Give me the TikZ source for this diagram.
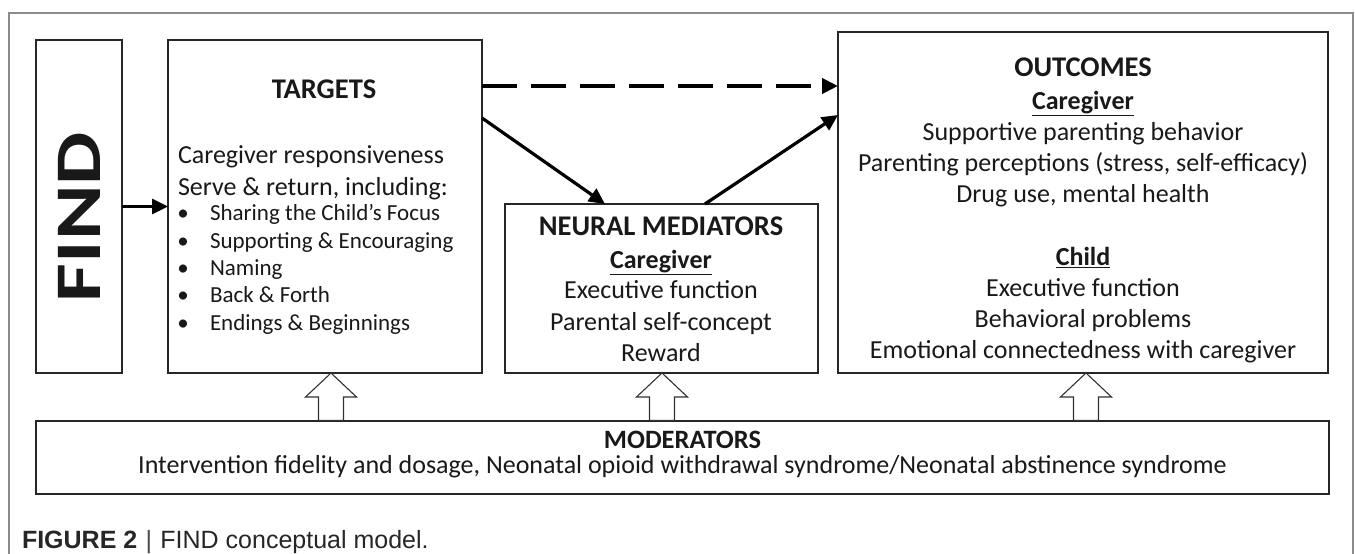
\documentclass[tikz,border=0pt]{standalone}
\usepackage{fontspec}
\usepackage{graphicx}
\setmainfont{Carlito}
\newfontfamily\capfont{Liberation Sans}
\usetikzlibrary{arrows.meta}
\newcommand\szBody{\fontsize{26}{31}\selectfont}
\newcommand\szBul{\fontsize{23}{27}\selectfont}
\newcommand\szTitle{\fontsize{28.5}{34}\selectfont\bfseries}
\newcommand\szFind{\fontsize{65}{78}\selectfont\bfseries}
\newcommand\szCap{\fontsize{25}{29}\selectfont}
\tikzset{
  box/.style={draw=black!85, line width=1.3pt, inner sep=0pt, outer sep=0pt, fill=white},
  txt/.style={inner sep=0pt, outer sep=0pt, anchor=mid, text=black!90},
  ltxt/.style={txt, anchor=mid west},
  arr/.style={line width=3.2pt, black, -{Triangle[length=16pt,width=15pt]}},
  dasharr/.style={arr, line width=4pt, dash pattern=on 35pt off 14pt},
  hollow/.style={draw=black!80, fill=white, line width=1.1pt, line join=miter},
  frame/.style={draw=black!45, line width=1.3pt}
}
\begin{document}
\begin{tikzpicture}[x=1pt,y=-1pt]
\useasboundingbox (0,0) rectangle (1355,554);
\draw[frame] (9,554) -- (9,13) -- (1353,13) -- (1353,554);

% boxes
\node[box, minimum width=86pt, minimum height=333pt] (find) at (79,206.5) {};
\node[box, minimum width=314pt, minimum height=333pt] (targets) at (325,206.5) {};
\node[box, minimum width=313pt, minimum height=169pt] (neural) at (661.5,288.5) {};
\node[box, minimum width=490pt, minimum height=341pt] (outcomes) at (1083,202.5) {};
\node[box, minimum width=1293pt, minimum height=73pt] (moder) at (682.5,457.5) {};

% FIND
\node[txt, anchor=center, rotate=90] (findtxt) at (79.5,217) {\scalebox{1.3}[1]{\szFind FIND}};

% TARGETS
\node[txt] (ttitle) at (324,96) {\szTitle TARGETS};
\node[ltxt] (t1) at (178,161) {\szBody Caregiver responsiveness};
\node[ltxt] (t2) at (178,193) {\szBody Serve \& return, including:};
\foreach \yy/\tt [count=\i] in {218/{Sharing the Child’s Focus},246/{Supporting \& Encouraging},273/{Naming},300/{Back \& Forth},328/{Endings \& Beginnings}}{
  \node[txt] (tb\i) at (183,\yy) {\szBul\textbullet};
  \node[ltxt] (tl\i) at (210,\yy) {\szBul \tt};
}

% NEURAL MEDIATORS
\node[txt] (ntitle) at (661,233) {\szTitle NEURAL MEDIATORS};
\node[txt] (ncg) at (661,266) {\szBody\bfseries\underline{Caregiver}};
\node[txt] (n1) at (661,296) {\szBody Executive function};
\node[txt] (n2) at (661,328) {\szBody Parental self-concept};
\node[txt] (n3) at (661,359) {\szBody Reward};

% OUTCOMES
\node[txt] (otitle) at (1083,74) {\szTitle OUTCOMES};
\node[txt] (ocg) at (1083,107) {\szBody\bfseries\underline{Caregiver}};
\node[txt] (o1) at (1083,138) {\szBody Supportive parenting behavior};
\node[txt] (o2) at (1083,169) {\szBody Parenting perceptions (stress, self-efficacy)};
\node[txt] (o3) at (1083,200) {\szBody Drug use, mental health};
\node[txt] (och) at (1083,263) {\szBody\bfseries\underline{Child}};
\node[txt] (o4) at (1083,294) {\szBody Executive function};
\node[txt] (o5) at (1083,325) {\szBody Behavioral problems};
\node[txt] (o6) at (1083,356) {\szBody Emotional connectedness with caregiver};

% MODERATORS
\node[txt] (mtitle) at (682.5,446) {\fontsize{26.5}{31}\selectfont\bfseries MODERATORS};
\node[txt] (m1) at (682.5,471) {\szBody Intervention fidelity and dosage, Neonatal opioid withdrawal syndrome/Neonatal abstinence syndrome};

% caption
\node[ltxt, text=black!85] (cap) at (22,546) {\szCap\capfont\textbf{FIGURE 2}\,\,{\color{black!70}|}\,\,FIND conceptual model.};

% connectors
\draw[arr] (find) -- (targets);
\draw[dasharr] ([yshift=-46pt]targets.north east) -- ([yshift=-54pt]outcomes.north west);
\draw[arr] ([yshift=-78pt]targets.north east) -- ([xshift=100pt]neural.north west);
\draw[arr] ([xshift=200pt]neural.north west) -- ([yshift=-83pt]outcomes.north west);

% hollow arrows from moderators
\draw[hollow] ([xshift=6pt]targets.south) -- ++(25.5,24) -- ++(-13,0) -- ++(0,23.5) -- ++(-25,0) -- ++(0,-23.5) -- ++(-13,0) -- cycle;
\draw[hollow] ([xshift=0.5pt]neural.south) -- ++(25.5,24) -- ++(-13,0) -- ++(0,23.5) -- ++(-25,0) -- ++(0,-23.5) -- ++(-13,0) -- cycle;
\draw[hollow] ([xshift=3pt]outcomes.south) -- ++(25.5,24) -- ++(-13,0) -- ++(0,23.5) -- ++(-25,0) -- ++(0,-23.5) -- ++(-13,0) -- cycle;
\end{tikzpicture}
\end{document}
